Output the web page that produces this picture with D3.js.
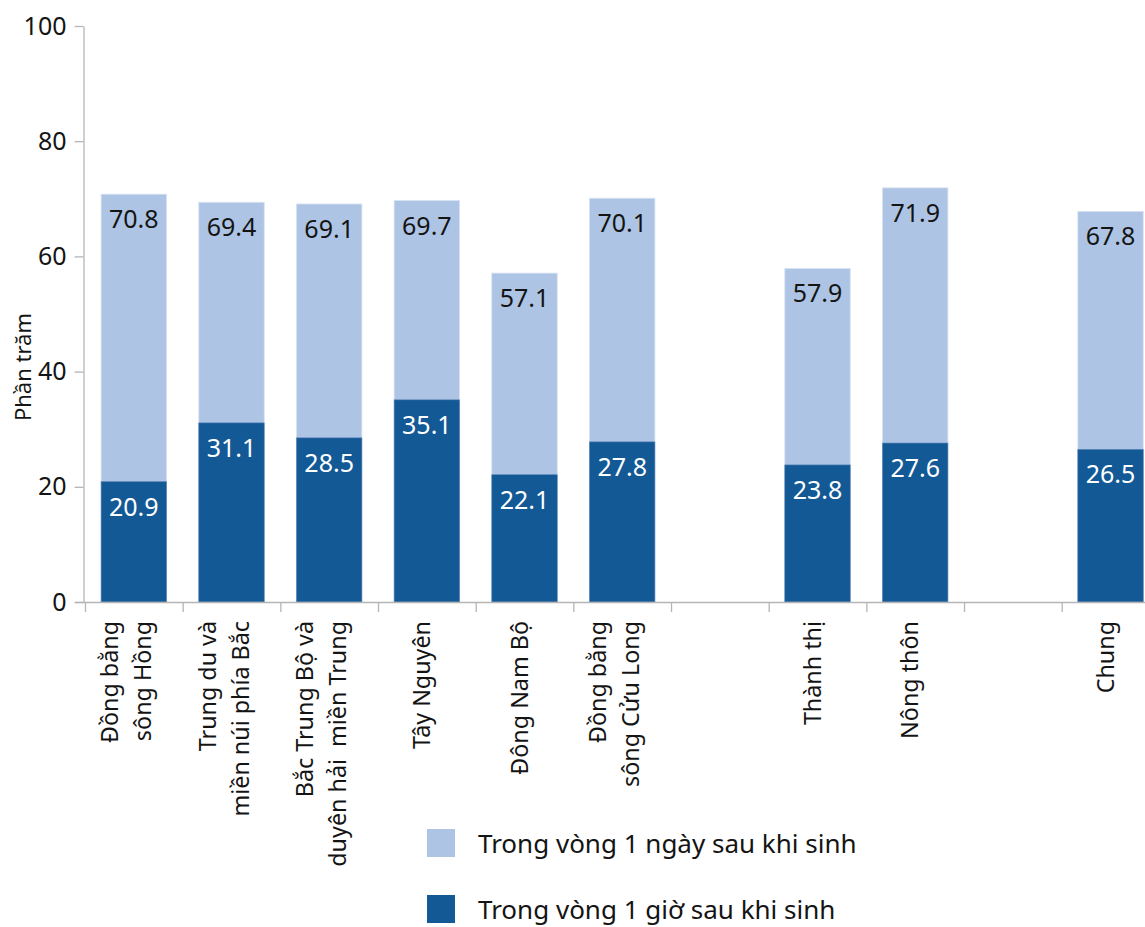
<!DOCTYPE html>
<html>
<head>
<meta charset="utf-8">
<script src="https://cdn.jsdelivr.net/npm/d3@7"></script>
<style>
  html, body { margin: 0; padding: 0; background: #fff; }
  svg { display: block; font-family: "Noto Sans", "Open Sans", sans-serif; }
</style>
</head>
<body>
<svg id="chart" width="1145" height="927"></svg>
<script>
// Category slots along the x axis; null marks an empty spacer slot.
const categories = [
  ["Đồng bằng", "sông Hồng"],
  ["Trung du và", "miền núi phía Bắc"],
  ["Bắc Trung Bộ và", "duyên hải  miền Trung"],
  ["Tây Nguyên"],
  ["Đông Nam Bộ"],
  ["Đồng bằng", "sông Cửu Long"],
  null,
  ["Thành thị"],
  ["Nông thôn"],
  null,
  ["Chung"]
];
// Within one day after birth (light bars)
const withinDay = [70.8, 69.4, 69.1, 69.7, 57.1, 70.1, null, 57.9, 71.9, null, 67.8];
// Within one hour after birth (dark bars)
const withinHour = [20.9, 31.1, 28.5, 35.1, 22.1, 27.8, null, 23.8, 27.6, null, 26.5];

const yTicks = [0, 20, 40, 60, 80, 100];
const seriesNames = ["Trong vòng 1 ngày sau khi sinh", "Trong vòng 1 giờ sau khi sinh"];
const yTitle = "Phần trăm";

const LIGHT = "#aec4e4";
const DARK = "#135996";
const AXIS = "#b5b5b5";
const INK = "#141414";

const svg = d3.select("#chart");

const left = 85, step = 97.67, baseY = 602, topY = 26;
const n = categories.length;

const x = d3.scaleBand()
  .domain(d3.range(n))
  .range([left, left + n * step])
  .paddingInner(0.33)
  .paddingOuter(0.165);

// Edge scale used for the tick marks between slots
const xEdge = d3.scaleLinear().domain([0, n]).range([left, left + n * step]);

const y = d3.scaleLinear().domain([0, 100]).range([baseY, topY]);

// Y axis
const yAxisG = svg.append("g")
  .attr("transform", "translate(83.5,0)")
  .call(d3.axisLeft(y).tickValues(yTicks).tickSize(9).tickSizeOuter(0).tickPadding(8));
yAxisG.select(".domain").attr("stroke", AXIS).attr("stroke-width", 1.3);
yAxisG.selectAll(".tick line").attr("stroke", AXIS).attr("stroke-width", 1.3);
yAxisG.selectAll(".tick text")
  .attr("fill", INK)
  .style("font-size", "25px")
  .style("font-family", "'Noto Sans', sans-serif");

// Y axis title
svg.append("text")
  .attr("transform", "translate(31,367) rotate(-90)")
  .attr("text-anchor", "middle")
  .attr("fill", INK)
  .style("font-size", "22px")
  .text(yTitle);

// Bars: light (one day) behind, dark (one hour) in front
const idx = d3.range(n).filter(i => withinDay[i] != null);

svg.append("g").selectAll("rect")
  .data(idx).join("rect")
  .attr("x", i => x(i))
  .attr("width", x.bandwidth())
  .attr("y", i => y(withinDay[i]))
  .attr("height", i => baseY - y(withinDay[i]))
  .attr("fill", LIGHT)
  .attr("stroke", "#d6e2f3")
  .attr("stroke-width", 0.8);

svg.append("g").selectAll("rect")
  .data(idx).join("rect")
  .attr("x", i => x(i))
  .attr("width", x.bandwidth())
  .attr("y", i => y(withinHour[i]))
  .attr("height", i => baseY - y(withinHour[i]))
  .attr("fill", DARK)
  .attr("stroke", "#5d87b6")
  .attr("stroke-width", 0.6);

// Value labels
svg.append("g").selectAll("text")
  .data(idx).join("text")
  .attr("x", i => x(i) + x.bandwidth() / 2)
  .attr("y", i => y(withinDay[i]) + 34)
  .attr("text-anchor", "middle")
  .attr("fill", INK)
  .style("font-size", "25px")
  .text(i => withinDay[i].toFixed(1));

svg.append("g").selectAll("text")
  .data(idx).join("text")
  .attr("x", i => x(i) + x.bandwidth() / 2)
  .attr("y", i => y(withinHour[i]) + 34)
  .attr("text-anchor", "middle")
  .attr("fill", "#ffffff")
  .style("font-size", "25px")
  .text(i => withinHour[i].toFixed(1));

// X axis baseline and slot ticks
svg.append("line")
  .attr("x1", 75).attr("x2", 1145)
  .attr("y1", baseY + 0.5).attr("y2", baseY + 0.5)
  .attr("stroke", AXIS).attr("stroke-width", 1.3);

const xAxisG = svg.append("g")
  .attr("transform", `translate(0,${baseY})`)
  .call(d3.axisBottom(xEdge).tickValues(d3.range(n)).tickSize(10).tickSizeOuter(0).tickFormat(""));
xAxisG.select(".domain").remove();
xAxisG.selectAll(".tick line").attr("stroke", AXIS).attr("stroke-width", 1.3);

// Rotated category labels
const labelG = svg.append("g").selectAll("g")
  .data(idx).join("g")
  .attr("transform", i => `translate(${x(i) + x.bandwidth() / 2},621) rotate(-90)`);

labelG.each(function (i) {
  const lines = categories[i];
  const offsets = lines.length === 2 ? [-16, 17] : [3];
  d3.select(this).selectAll("text")
    .data(lines).join("text")
    .attr("x", 0)
    .attr("y", (d, k) => offsets[k])
    .attr("text-anchor", "end")
    .attr("fill", INK)
    .style("font-size", "23.3px")
    .style("white-space", "pre")
    .text(d => d);
});

// Legend
const legend = svg.append("g").selectAll("g")
  .data(seriesNames).join("g")
  .attr("transform", (d, k) => `translate(427,${829 + k * 66})`);
legend.append("rect")
  .attr("width", 28).attr("height", 28)
  .attr("fill", (d, k) => k === 0 ? LIGHT : DARK);
legend.append("text")
  .attr("x", 51).attr("y", 24)
  .attr("fill", INK)
  .style("font-size", "26px")
  .text(d => d);
</script>
</body>
</html>
